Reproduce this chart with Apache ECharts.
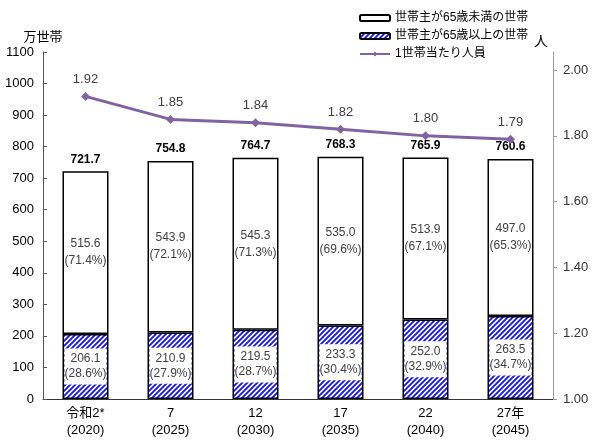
<!DOCTYPE html>
<html>
<head>
<meta charset="utf-8">
<script src="https://cdn.jsdelivr.net/npm/echarts@6/dist/echarts.min.js"></script>
<style>html,body{margin:0;padding:0;background:#fff}#c{width:600px;height:443px}</style>
</head>
<body>
<div id="c"></div>
<script>
const categories = ['令和2*\n(2020)', '7\n(2025)', '12\n(2030)', '17\n(2035)', '22\n(2040)', '27年\n(2045)'];
const under65 = [515.6, 543.9, 545.3, 535.0, 513.9, 497.0];
const under65Pct = ['71.4', '72.1', '71.3', '69.6', '67.1', '65.3'];
const over65 = [206.1, 210.9, 219.5, 233.3, 252.0, 263.5];
const over65Pct = ['28.6', '27.9', '28.7', '30.4', '32.9', '34.7'];
const totals = [721.7, 754.8, 764.7, 768.3, 765.9, 760.6];
const perHousehold = [1.92, 1.85, 1.84, 1.82, 1.80, 1.79];
const rightTicks = [1.0, 1.2, 1.4, 1.6, 1.8, 2.0];

const FONT = "'Liberation Sans', 'Noto Sans CJK JP', sans-serif";

// hatch pattern
const s = 5;
const cv = document.createElement('canvas');
cv.width = s; cv.height = s;
const ctx = cv.getContext('2d');
ctx.fillStyle = '#fff'; ctx.fillRect(0, 0, s, s);
ctx.strokeStyle = '#1010ff'; ctx.lineWidth = 1.8;
ctx.beginPath();
ctx.moveTo(-1, s + 1); ctx.lineTo(s + 1, -1);
ctx.moveTo(-1, 1); ctx.lineTo(1, -1);
ctx.moveTo(s - 1, s + 1); ctx.lineTo(s + 1, s - 1);
ctx.stroke();
const hatch = { image: cv, repeat: 'repeat' };

const chart = echarts.init(document.getElementById('c'));
chart.setOption({
  animation: false,
  textStyle: { fontFamily: FONT },
  legend: {
    orient: 'vertical', left: 354, top: 7, itemGap: 6, itemWidth: 30, itemHeight: 6,
    data: ['世帯主が65歳未満の世帯', '世帯主が65歳以上の世帯', '1世帯当たり人員'],
    textStyle: { fontSize: 12, color: '#000', fontFamily: FONT }
  },
  grid: { left: 43, right: 47, top: 52, bottom: 44 },
  xAxis: {
    type: 'category', data: categories, boundaryGap: true,
    axisLine: { lineStyle: { color: '#333', width: 1 } },
    axisTick: { inside: true, length: 4, lineStyle: { color: '#555' } },
    axisLabel: { color: '#000', fontSize: 13, lineHeight: 17, margin: 6, fontFamily: FONT }
  },
  yAxis: [{
    type: 'value', min: 0, max: 1100, interval: 100,
    name: '万世帯', nameLocation: 'end', nameGap: 8,
    nameTextStyle: { color: '#000', fontSize: 13, fontFamily: FONT },
    axisLine: { show: true, lineStyle: { color: '#555' } },
    axisTick: { show: true, inside: true, length: 4, lineStyle: { color: '#555' } },
    splitLine: { show: false },
    axisLabel: { color: '#000', fontSize: 13, margin: 9, fontFamily: FONT, formatter: v => String(v) }
  }, {
    type: 'value', min: 1, max: 2.055,
    name: '人', nameLocation: 'end', nameGap: 3,
    nameTextStyle: { color: '#000', fontSize: 14, align: 'right', padding: [0, 5, 0, 0], fontFamily: FONT },
    axisLine: { show: true, lineStyle: { color: '#999' } },
    axisTick: { show: true, inside: false, length: 4, customValues: rightTicks, lineStyle: { color: '#999' } },
    splitLine: { show: false },
    axisLabel: { color: '#333', fontSize: 13, margin: 10, customValues: rightTicks, fontFamily: FONT,
      formatter: v => v.toFixed(2) }
  }],
  series: [{
    name: '世帯主が65歳以上の世帯', type: 'bar', stack: 'a', barWidth: 46,
    data: over65,
    itemStyle: { color: hatch, borderColor: '#000', borderWidth: 1.5 },
    label: {
      show: true, position: 'inside', color: '#404040', fontSize: 12, lineHeight: 15,
      backgroundColor: '#fff', width: 40, padding: [3, 1], align: 'center', fontFamily: FONT,
      formatter: p => over65[p.dataIndex].toFixed(1) + '\n(' + over65Pct[p.dataIndex] + '%)'
    }
  }, {
    name: '世帯主が65歳未満の世帯', type: 'bar', stack: 'a', barWidth: 46,
    data: under65,
    itemStyle: { color: '#fff', borderColor: '#000', borderWidth: 1.5 },
    label: {
      show: true, position: 'inside', color: '#404040', fontSize: 12, lineHeight: 17, fontFamily: FONT,
      formatter: p => under65[p.dataIndex].toFixed(1) + '\n(' + under65Pct[p.dataIndex] + '%)'
    }
  }, {
    name: 'total', type: 'bar', stack: 'a', barWidth: 46,
    data: totals.map(() => 0),
    itemStyle: { color: 'transparent' },
    label: {
      show: true, position: 'top', color: '#000', fontSize: 12, fontWeight: 'bold', distance: 6, fontFamily: FONT,
      formatter: p => totals[p.dataIndex].toFixed(1)
    }
  }, {
    name: '1世帯当たり人員', type: 'line', yAxisIndex: 1, data: perHousehold,
    symbol: 'diamond', symbolSize: 9,
    lineStyle: { color: '#8064A2', width: 3 },
    itemStyle: { color: '#8064A2' },
    label: { show: true, position: 'top', distance: 6, color: '#404040', fontSize: 13, fontFamily: FONT,
      formatter: p => perHousehold[p.dataIndex].toFixed(2) }
  }]
});
</script>
</body>
</html>
